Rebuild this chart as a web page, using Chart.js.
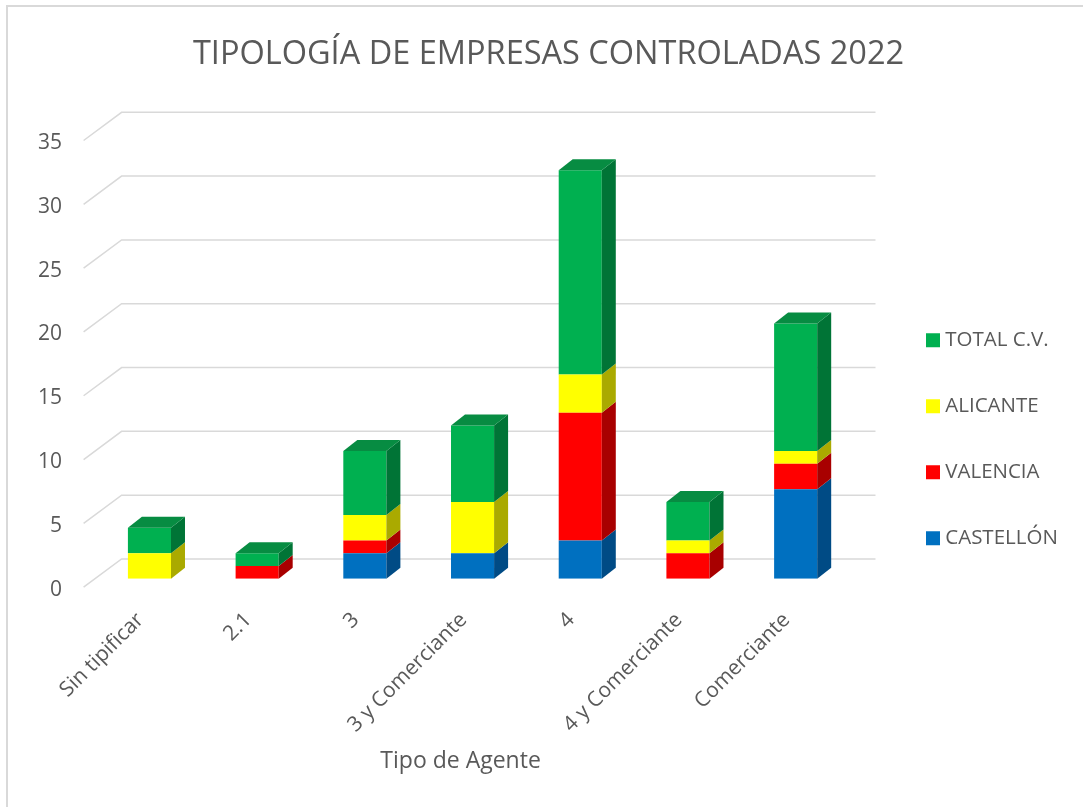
<!DOCTYPE html>
<html>
<head>
<meta charset="utf-8">
<title>Tipología de empresas controladas 2022</title>
<script src="https://cdn.jsdelivr.net/npm/chart.js@4"></script>
<style>
    html, body { margin: 0; padding: 0; background: #fff; }
    #wrap { position: relative; width: 1083px; height: 807px; overflow: hidden; }
    #frame { position: absolute; left: 6px; top: 5px; width: 1100px; height: 810px; border-left: 2px solid #d9d9d9; border-top: 2px solid #d9d9d9; }
    canvas { position: absolute; left: 0; top: 0; }
</style>
</head>
<body>
<div id="wrap">
    <div id="frame"></div>
    <canvas id="tipoChart" width="1083" height="807"></canvas>
</div>
<script>
// Chart data
const categories = ['Sin tipificar', '2.1', '3', '3 y Comerciante', '4', '4 y Comerciante', 'Comerciante'];
const castellon = [0, 0, 2, 2, 3, 0, 7];
const valencia = [0, 1, 1, 0, 10, 2, 2];
const alicante = [2, 0, 2, 4, 3, 1, 1];
const totalCV = [2, 1, 5, 6, 16, 3, 10];
const yTicks = [0, 5, 10, 15, 20, 25, 30, 35];

const textColor = '#595959';
const fontName = '"Open Sans", sans-serif';

// Depth of the 3D look, in pixels
const barDepthX = 14;
const barDepthY = 11;
const floorFront = { x: -12, y: 8.5 };
const floorBack = { x: 26, y: -19.7 };

// Front colour -> side and top faces
const faceColors = [
    { side: '#004b85', top: '#005a9e' },
    { side: '#a80000', top: '#c00000' },
    { side: '#aaaa00', top: '#c4c400' },
    { side: '#007436', top: '#078c42' }
];

// Grid as floor edge + back wall, drawn from the y scale
const wallGrid = {
    id: 'wallGrid',
    beforeDatasetsDraw(chart) {
        const { ctx, chartArea, scales } = chart;
        ctx.save();
        ctx.strokeStyle = '#d9d9d9';
        ctx.lineWidth = 1.5;
        yTicks.forEach((tick) => {
            const y = scales.y.getPixelForValue(tick);
            ctx.beginPath();
            ctx.moveTo(chartArea.left + floorFront.x, y + floorFront.y);
            ctx.lineTo(chartArea.left + floorBack.x, y + floorBack.y);
            ctx.lineTo(chartArea.right + floorBack.x, y + floorBack.y);
            ctx.stroke();
        });
        ctx.restore();
    }
};

function polygon(ctx, points, color) {
    ctx.fillStyle = color;
    ctx.beginPath();
    points.forEach((p, i) => (i ? ctx.lineTo(p[0], p[1]) : ctx.moveTo(p[0], p[1])));
    ctx.closePath();
    ctx.fill();
}

// Side and top faces of each bar, taken from the bar elements
const barFaces = {
    id: 'barFaces',
    afterDatasetsDraw(chart) {
        const { ctx } = chart;
        categories.forEach((cat, index) => {
            let topBar = null;
            let topSet = 0;
            chart.data.datasets.forEach((ds, dsIndex) => {
                const bar = chart.getDatasetMeta(dsIndex).data[index];
                if (!ds.data[index]) return;
                const right = bar.x + bar.width / 2;
                polygon(ctx, [
                    [right, bar.y],
                    [right + barDepthX, bar.y - barDepthY],
                    [right + barDepthX, bar.base - barDepthY],
                    [right, bar.base]
                ], faceColors[dsIndex].side);
                topBar = bar;
                topSet = dsIndex;
            });
            if (topBar) {
                const left = topBar.x - topBar.width / 2;
                const right = topBar.x + topBar.width / 2;
                polygon(ctx, [
                    [left, topBar.y],
                    [left + barDepthX, topBar.y - barDepthY],
                    [right + barDepthX, topBar.y - barDepthY],
                    [right, topBar.y]
                ], faceColors[topSet].top);
            }
        });
    }
};

// Legend sits in its own column on the right, title centres on the whole page
const placeBoxes = {
    id: 'placeBoxes',
    afterLayout(chart) {
        const legend = chart.legend;
        const padding = legend.options.labels.padding;
        legend.left = 931 - padding;
        legend.top = 330 - padding;
        legend.right = chart.width;
        legend.bottom = chart.height;
        chart.titleBlock.right = chart.width;
    }
};

const ctx = document.getElementById('tipoChart').getContext('2d');
const tipoChart = new Chart(ctx, {
    type: 'bar',
    data: {
        labels: categories,
        datasets: [
            { label: 'CASTELLÓN', data: castellon, backgroundColor: '#0070c0' },
            { label: 'VALENCIA', data: valencia, backgroundColor: '#ff0000' },
            { label: 'ALICANTE', data: alicante, backgroundColor: '#ffff00' },
            { label: 'TOTAL C.V.', data: totalCV, backgroundColor: '#00b050' }
        ]
    },
    plugins: [wallGrid, barFaces, placeBoxes],
    options: {
        responsive: false,
        animation: false,
        layout: { padding: { left: 14, right: 233.5, top: 0, bottom: 32 } },
        datasets: { bar: { categoryPercentage: 1, barPercentage: 0.4 } },
        plugins: {
            title: {
                display: true,
                text: 'TIPOLOGÍA DE EMPRESAS CONTROLADAS 2022',
                color: textColor,
                font: { family: fontName, size: 32.5, weight: 'normal' },
                padding: { top: 35, bottom: 58 }
            },
            legend: {
                position: 'chartArea',
                align: 'start',
                reverse: true,
                labels: {
                    color: textColor,
                    font: { family: fontName, size: 20.5 },
                    boxWidth: 4,
                    boxHeight: 4,
                    padding: 45.5,
                    generateLabels(chart) {
                        return Chart.defaults.plugins.legend.labels.generateLabels(chart).map((item) => {
                            item.lineWidth = 10;
                            item.strokeStyle = item.fillStyle;
                            return item;
                        });
                    }
                }
            },
            tooltip: { enabled: false }
        },
        scales: {
            x: {
                stacked: true,
                grid: { display: false },
                border: { display: false },
                afterFit(scale) { scale.height = 807 - 578.7 - 32; },
                ticks: {
                    color: textColor,
                    font: { family: fontName, size: 21 },
                    minRotation: 45,
                    maxRotation: 45,
                    padding: 21,
                    labelOffset: -9,
                    autoSkip: false
                },
                title: {
                    display: true,
                    text: 'Tipo de Agente    ',
                    color: textColor,
                    font: { family: fontName, size: 23 },
                    padding: 0
                }
            },
            y: {
                stacked: true,
                min: 0,
                max: 35,
                grid: { display: false },
                border: { display: false },
                afterFit(scale) { scale.width = 81.6; },
                afterBuildTicks(scale) { scale.ticks = yTicks.map((value) => ({ value })); },
                ticks: {
                    color: textColor,
                    font: { family: fontName, size: 21 },
                    padding: 25.6,
                    labelOffset: 11
                }
            }
        }
    }
});
</script>
</body>
</html>
